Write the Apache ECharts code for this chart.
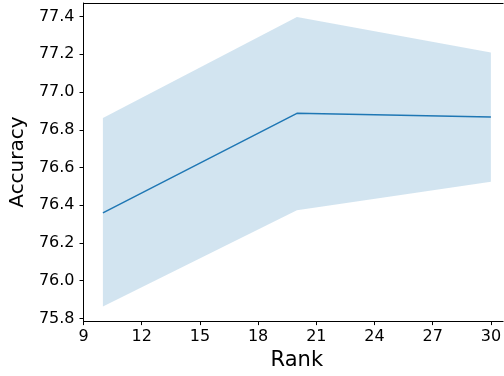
<!DOCTYPE html>
<html>
<head>
<meta charset="utf-8">
<script src="https://cdn.jsdelivr.net/npm/echarts@6/dist/echarts.min.js"></script>
<style>html,body{margin:0;padding:0;background:#fff}#c{width:504px;height:376px}</style>
</head>
<body>
<div id="c"></div>
<script>
// Data
var ranks = [10, 20, 30];
var meanAcc = [76.36, 76.887, 76.868];
var upperAcc = [76.863, 77.398, 77.21];
var lowerAcc = [75.863, 76.373, 76.524];
var xTicks = [9, 12, 15, 18, 21, 24, 27, 30];
var yTicks = [75.8, 76.0, 76.2, 76.4, 76.6, 76.8, 77.0, 77.2, 77.4];

var font = 'DejaVu Sans';
var chart = echarts.init(document.getElementById('c'), null, {renderer: 'canvas'});
var bandData = ranks.map(function (r, i) { return [r, lowerAcc[i], upperAcc[i]]; });
var meanData = ranks.map(function (r, i) { return [r, meanAcc[i]]; });

chart.setOption({
  animation: false,
  backgroundColor: '#ffffff',
  grid: {left: 81, top: 3, right: 0, bottom: 54, containLabel: false},
  xAxis: [{
    type: 'value', min: 9, max: 30.63,
    name: 'Rank', nameLocation: 'middle', nameGap: 28,
    nameTextStyle: {fontFamily: font, fontSize: 21, color: '#000', padding: [0, 0, 0, 7]},
    axisLine: {show: true, onZero: false, lineStyle: {color: '#000', width: 1}},
    axisTick: {show: true, length: 4, lineStyle: {color: '#000'}, customValues: xTicks},
    axisLabel: {fontFamily: font, fontSize: 16, color: '#000', margin: 8, customValues: xTicks},
    splitLine: {show: false}
  }, {
    type: 'value', min: 9, max: 30.63, position: 'top',
    axisLine: {show: true, onZero: false, lineStyle: {color: '#000', width: 1}},
    axisTick: {show: false}, axisLabel: {show: false}, splitLine: {show: false}
  }],
  yAxis: {
    type: 'value', min: 75.786, max: 77.472,
    name: 'Accuracy', nameLocation: 'middle', nameGap: 53, nameRotate: 90,
    nameTextStyle: {fontFamily: font, fontSize: 20, color: '#000'},
    axisLine: {show: true, onZero: false, lineStyle: {color: '#000', width: 1}},
    axisTick: {show: true, length: 4, lineStyle: {color: '#000'}, customValues: yTicks},
    axisLabel: {fontFamily: font, fontSize: 16, color: '#000', margin: 9, customValues: yTicks,
      formatter: function (v) { return v.toFixed(1); }},
    splitLine: {show: false}
  },
  series: [{
    type: 'custom', silent: true, data: bandData,
    encode: {x: 0, y: [1, 2]},
    renderItem: function (params, api) {
      if (params.dataIndex !== 0) return null;
      var pts = [];
      var i;
      for (i = 0; i < bandData.length; i++) pts.push(api.coord([bandData[i][0], bandData[i][2]]));
      for (i = bandData.length - 1; i >= 0; i--) pts.push(api.coord([bandData[i][0], bandData[i][1]]));
      return {type: 'polygon', shape: {points: pts}, style: {fill: 'rgba(31,119,180,0.2)'}};
    }
  }, {
    type: 'line', data: meanData, symbol: 'none',
    lineStyle: {color: '#1f77b4', width: 1.5}
  }]
});
</script>
</body>
</html>
